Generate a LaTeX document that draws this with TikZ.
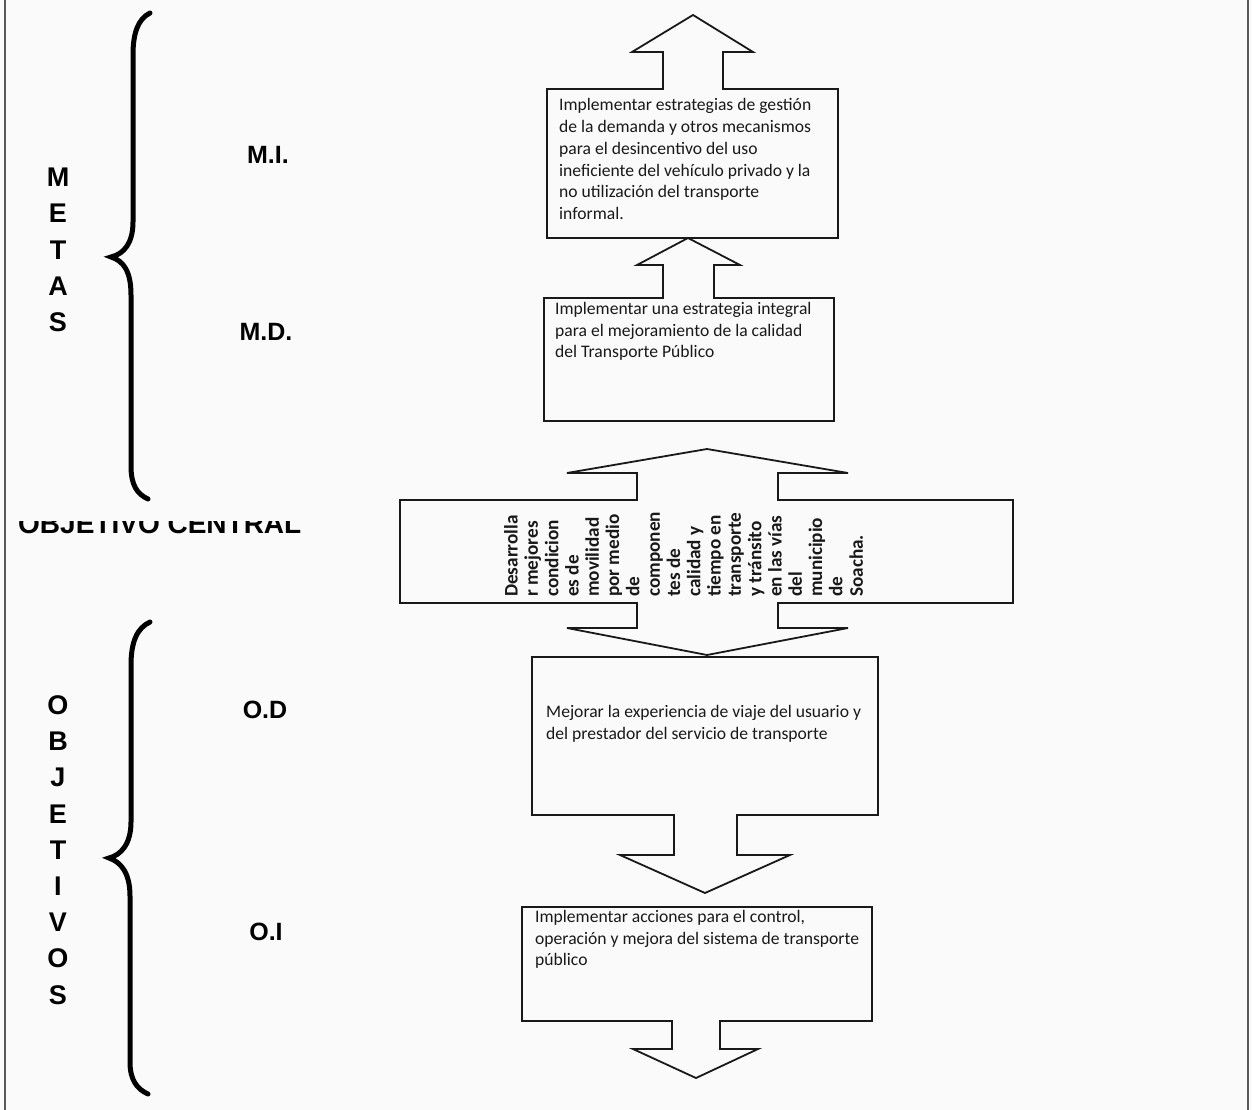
\documentclass[tikz,border=0pt]{standalone}
\usepackage{fontspec}
\setmainfont{Carlito}
\newfontfamily\arialf{Liberation Sans}
\begin{document}
\begin{tikzpicture}[x=1pt,y=-1pt,
  shapeline/.style={draw=black!90, line width=1.8pt, line join=miter},
  bracestyle/.style={draw=black, line width=5pt, line cap=round},
  boxtext/.style={anchor=north west, inner sep=0pt, align=left, text=black!90,
     font=\fontsize{17.6}{21.7}\selectfont},
  ctext/.style={anchor=north west, inner sep=0pt, align=left, rotate=90, text=black!90,
     font=\fontsize{19.2}{20.3}\selectfont\bfseries},
  biglabel/.style={inner sep=0pt, text=black, font=\arialf\bfseries\fontsize{25}{30}\selectfont},
  sidelabel/.style={inner sep=0pt, align=center, text=black, font=\arialf\bfseries\fontsize{27}{36.2}\selectfont}
]
\useasboundingbox (0,0) rectangle (1252,1110);
\fill[black!2] (0,0) rectangle (1252,1110);
% page borders
\draw[black!65, line width=2pt] (5,0) -- (5,1110);
\draw[black!65, line width=2pt] (1248,0) -- (1248,1110);

% ---- top box (M.I.) with up arrow
\draw[shapeline] (547,89) -- (663,89) -- (663,52) -- (632,52) -- (693,15) -- (753,52) -- (723,52) -- (723,89) -- (838,89) -- (838,238) -- (547,238) -- cycle;
\node[boxtext] (mi) at (559,98.5) {Implementar estrategias de gestión\\de la demanda y otros mecanismos\\para el desincentivo del uso\\ineficiente del vehículo privado y la\\no utilización del transporte\\informal.};

% ---- second box (M.D.) with up arrow
\draw[shapeline] (544,298) -- (663,298) -- (663,265) -- (637,265) -- (688,238) -- (740,265) -- (714,265) -- (714,298) -- (834,298) -- (834,421) -- (544,421) -- cycle;
\node[boxtext] (md) at (555,302) {Implementar una estrategia integral\\para el mejoramiento de la calidad\\del Transporte Público};

% ---- central box with up/down arrows
\draw[shapeline] (400,500) -- (637,500) -- (637,473) -- (567,473) -- (707,449) -- (848,473) -- (778,473) -- (778,500) -- (1013,500) -- (1013,603) -- (778,603) -- (778,628) -- (848,628) -- (707,655) -- (567,628) -- (637,628) -- (637,603) -- (400,603) -- cycle;
\node[ctext] (oc) at (504,597) {Desarrolla\\r mejores\\condicion\\es de\\movilidad\\por medio\\de\\componen\\tes de\\calidad y\\tiempo en\\transporte\\y tránsito\\en las vías\\del\\municipio\\de\\Soacha.};

% ---- O.D box with down arrow
\draw[shapeline] (532,657) -- (878,657) -- (878,815) -- (737,815) -- (737,855) -- (790,855) -- (705,893) -- (620,855) -- (674,855) -- (674,815) -- (532,815) -- cycle;
\node[boxtext] (od) at (546,705) {Mejorar la experiencia de viaje del usuario y\\del prestador del servicio de transporte};

% ---- O.I box with down arrow
\draw[shapeline] (522,907) -- (872,907) -- (872,1021) -- (720,1021) -- (720,1049) -- (758,1049) -- (696,1078) -- (633,1049) -- (672,1049) -- (672,1021) -- (522,1021) -- cycle;
\node[boxtext] (oi) at (535,910) {Implementar acciones para el control,\\operación y mejora del sistema de transporte\\público};

% ---- braces
\draw[bracestyle] (150,13) .. controls (138,19) and (133,33) .. (133,55) -- (133,222) .. controls (133,243) and (124,254) .. (111,257) .. controls (124,261) and (131,272) .. (131,295) -- (131,466) .. controls (131,485) and (137,494) .. (148,499);
\draw[bracestyle] (150,622) .. controls (137,628) and (131,642) .. (131,665) -- (131,822) .. controls (131,844) and (121,855) .. (109,858) .. controls (121,862) and (130,873) .. (130,896) -- (130,1062) .. controls (130,1080) and (137,1089) .. (148,1094);

% ---- side labels
\node[sidelabel] (metas) at (58,250) {M\\E\\T\\A\\S};
\node[sidelabel] (objetivos) at (58,850) {O\\B\\J\\E\\T\\I\\V\\O\\S};
\node[biglabel] (lmi) at (268,155) {M.I.};
\node[biglabel] (lmd) at (266,332) {M.D.};
\node[biglabel] (lod) at (265,710) {O.D};
\node[biglabel] (loi) at (266,932) {O.I};

% ---- partially hidden title
\begin{scope}
\clip (0,521.5) rectangle (330,545);
\node[anchor=base west, inner sep=0pt, text=black, font=\arialf\bfseries\fontsize{28}{30}\selectfont] (central) at (18,533) {OBJETIVO CENTRAL};
\end{scope}
\end{tikzpicture}
\end{document}
